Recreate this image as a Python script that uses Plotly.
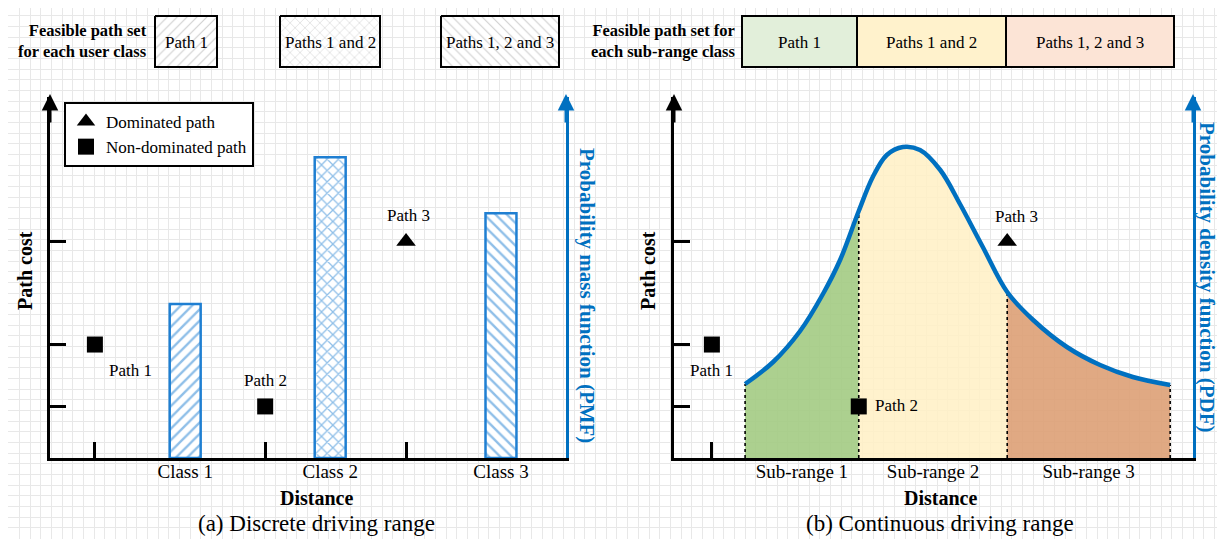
import plotly.graph_objects as go

W, H = 1225, 539          # browser window
OFF = 8                   # default page body margin
FW, FH = W - OFF, H - OFF  # figure size
FONT = "Liberation Serif"
BLUE = "#0070c0"
BAR_BLUE = "#1f7fd2"

# ---------------- data: panel (a) discrete driving range ----------------
classes = ["Class 1", "Class 2", "Class 3"]
class_distance = [26.2, 54.3, 87.4]
class_pmf = [0.22, 0.43, 0.35]
class_patterns = ["/", "x", "\\"]

paths = ["Path 1", "Path 2", "Path 3"]
path_cost = [2.2, 1.0, 4.2]
path_dominated = [False, False, True]
a_path_distance = [8.7, 41.7, 69.0]

# ---------------- data: panel (b) continuous driving range ----------------
b_path_distance = [7.3, 35.6, 64.2]
pdf_distance = [13.7, 19.1, 24.3, 28.7, 32.0, 35.6, 38.3, 41.0, 44.1, 47.4,
                51.3, 55.1, 59.5, 64.2, 69.2, 75.7, 82.1, 88.4, 95.6]
pdf_density = [0.0074, 0.0096, 0.0127, 0.0164, 0.0198, 0.0247, 0.0281, 0.0303,
               0.0311, 0.0308, 0.0288, 0.0254, 0.0211, 0.0166, 0.0138, 0.0111,
               0.0093, 0.0081, 0.0073]
subranges = ["Sub-range 1", "Sub-range 2", "Sub-range 3"]
subrange_bounds = [13.7, 35.6, 64.2, 95.6]
subrange_colors = ["rgba(160,202,128,0.88)", "rgba(255,240,196,0.85)", "rgba(221,160,118,0.9)"]

# ---------------- legend box labels ----------------
user_class_sets = ["Path 1", "Paths 1 and 2", "Paths 1, 2 and 3"]
subrange_sets = ["Path 1", "Paths 1 and 2", "Paths 1, 2 and 3"]
subrange_set_colors = ["#e2efda", "#fff2cc", "#fce4d6"]


def px(x):
    return (x - OFF) / FW


def py(y):
    return 1 - (y - OFF) / FH


fig = go.Figure()

# ---- top legend (a): hatched boxes drawn on the page-pixel axis ----
boxes_a = [(155, 217), (280, 380), (441, 559)]
for (x0, x1), lab, pat in zip(boxes_a, user_class_sets, class_patterns):
    fig.add_trace(go.Scatter(
        x=[x0, x1, x1, x0, x0], y=[16, 16, 67, 67, 16], mode="lines",
        fill="toself", fillcolor="white",
        fillpattern=dict(shape=pat, fgcolor="#9a9a9a", bgcolor="white", size=7, solidity=0.15),
        line=dict(color="black", width=2), showlegend=False, hoverinfo="skip",
        xaxis="x", yaxis="y"))

# ---- panel (a): path markers on base axes, PMF bars on overlay axes ----
dom_x = [d for d, m in zip(a_path_distance, path_dominated) if m]
dom_y = [c for c, m in zip(path_cost, path_dominated) if m]
nd_x = [d for d, m in zip(a_path_distance, path_dominated) if not m]
nd_y = [c for c, m in zip(path_cost, path_dominated) if not m]
fig.add_trace(go.Scatter(x=dom_x, y=dom_y, mode="markers", name="Dominated path",
                         marker=dict(symbol="triangle-up", size=17, color="black"),
                         xaxis="x2", yaxis="y2"))
fig.add_trace(go.Scatter(x=nd_x, y=nd_y, mode="markers", name="Non-dominated path",
                         marker=dict(symbol="square", size=16, color="black"),
                         xaxis="x2", yaxis="y2"))
fig.add_trace(go.Bar(
    x=class_distance, y=class_pmf, width=6.0, xaxis="x3", yaxis="y3",
    marker=dict(color="white", line=dict(color=BAR_BLUE, width=2.5),
                pattern=dict(shape=class_patterns, fgcolor=BAR_BLUE, bgcolor="white",
                             size=8, solidity=0.3)),
    showlegend=False, hoverinfo="skip"))

# ---- panel (b): PDF on base axes, path markers on overlay axes ----
for i in range(3):
    i0 = pdf_distance.index(subrange_bounds[i])
    i1 = pdf_distance.index(subrange_bounds[i + 1])
    fig.add_trace(go.Scatter(
        x=pdf_distance[i0:i1 + 1], y=pdf_density[i0:i1 + 1], mode="lines",
        line=dict(width=0, shape="spline"), fill="tozeroy",
        fillcolor=subrange_colors[i], showlegend=False, hoverinfo="skip",
        xaxis="x4", yaxis="y4"))
for b in subrange_bounds:
    dv = pdf_density[pdf_distance.index(b)]
    fig.add_trace(go.Scatter(x=[b, b], y=[0, dv], mode="lines",
                             line=dict(color="black", width=1.6, dash="dot"),
                             showlegend=False, hoverinfo="skip", xaxis="x4", yaxis="y4"))
fig.add_trace(go.Scatter(x=pdf_distance, y=pdf_density, mode="lines",
                         line=dict(color=BLUE, width=4.5, shape="spline"),
                         showlegend=False, hoverinfo="skip", xaxis="x4", yaxis="y4"))

bdom_x = [d for d, m in zip(b_path_distance, path_dominated) if m]
bnd_x = [d for d, m in zip(b_path_distance, path_dominated) if not m]
fig.add_trace(go.Scatter(x=bdom_x, y=dom_y, mode="markers", showlegend=False,
                         marker=dict(symbol="triangle-up", size=17, color="black"),
                         xaxis="x5", yaxis="y5"))
fig.add_trace(go.Scatter(x=bnd_x, y=nd_y, mode="markers", showlegend=False,
                         marker=dict(symbol="square", size=16, color="black"),
                         xaxis="x5", yaxis="y5"))

sub_centers = [(subrange_bounds[i] + subrange_bounds[i + 1]) / 2 for i in range(3)]

# ---------------- axes ----------------
ydom = [py(458), py(97)]
ax_a = [px(50), px(566)]
ax_b = [px(674), px(1193)]
hidden = dict(showgrid=False, zeroline=False, showticklabels=False, ticks="")
black_line = dict(showline=True, linecolor="black", linewidth=3, mirror=False)
tick_in = dict(ticks="inside", ticklen=16, tickwidth=2.5, tickcolor="black",
               showgrid=False, zeroline=False, showticklabels=False)

fig.update_layout(
    width=FW, height=FH, autosize=False,
    margin=dict(l=0, r=0, t=0, b=0),
    paper_bgcolor="white", plot_bgcolor="rgba(0,0,0,0)",
    font=dict(family=FONT, color="black"),
    xaxis=dict(domain=[0, 1], range=[OFF, W], anchor="y", showgrid=True, gridcolor="#e8e8e8",
               gridwidth=1, dtick=10.67, tick0=8.8, zeroline=False, showticklabels=False,
               ticks="", fixedrange=True),
    yaxis=dict(domain=[0, 1], range=[H, OFF], anchor="x", showgrid=True, gridcolor="#e8e8e8",
               gridwidth=1, dtick=10.67, tick0=5, zeroline=False, showticklabels=False,
               ticks="", fixedrange=True),
    # panel (a)
    xaxis2=dict(domain=ax_a, range=[0, 100], anchor="y2", tickvals=a_path_distance,
                **tick_in, **black_line),
    yaxis2=dict(domain=ydom, range=[0, 7], anchor="x2", tickvals=path_cost,
                **tick_in, **black_line),
    xaxis3=dict(overlaying="x2", range=[0, 100], anchor="y2", showgrid=False, zeroline=False,
                showline=False, ticks="", tickvals=class_distance, ticktext=classes,
                tickfont=dict(size=19, family=FONT)),
    yaxis3=dict(overlaying="y2", side="right", anchor="x2", range=[0, 0.516], showline=True,
                linecolor=BLUE, linewidth=3, **hidden),
    # panel (b)
    xaxis4=dict(domain=ax_b, range=[0, 100], anchor="y4", showgrid=False, zeroline=False,
                showline=False, ticks="", tickvals=sub_centers, ticktext=subranges,
                tickfont=dict(size=19, family=FONT)),
    yaxis4=dict(domain=ydom, side="right", range=[0, 0.0361], anchor="x4", showline=True,
                linecolor=BLUE, linewidth=3, **hidden),
    xaxis5=dict(overlaying="x4", range=[0, 100], anchor="y4",
                tickvals=[b_path_distance[0]], **tick_in, **black_line),
    yaxis5=dict(overlaying="y4", side="left", range=[0, 7], anchor="x4", tickvals=path_cost,
                **tick_in, **black_line),
    showlegend=True,
    legend=dict(x=px(64), y=py(102), xanchor="left", yanchor="top", bgcolor="white",
                bordercolor="black", borderwidth=2, font=dict(size=17, family=FONT),
                tracegroupgap=0),
)

# ---------------- shapes: right legend boxes ----------------
boxes_b = [(742, 857), (857, 1006), (1006, 1174)]
for (x0, x1), col in zip(boxes_b, subrange_set_colors):
    fig.add_shape(type="rect", xref="paper", yref="paper", x0=px(x0), x1=px(x1),
                  y0=py(67), y1=py(16), fillcolor=col, line=dict(color="black", width=2),
                  layer="above")

# ---------------- annotations ----------------
ann = []


def text(x, y, t, size=17, bold=False, color="black", angle=0, xanchor="center", align="center"):
    ann.append(dict(xref="paper", yref="paper", x=px(x), y=py(y),
                    text=f"<b>{t}</b>" if bold else t, showarrow=False,
                    font=dict(family=FONT, size=size, color=color), textangle=angle,
                    xanchor=xanchor, yanchor="middle", align=align))


# top legends
text(149, 41, "Feasible path set<br>for each user class", size=16.5, bold=True,
     xanchor="right", align="right")
for (x0, x1), lab in zip(boxes_a, user_class_sets):
    text((x0 + x1) / 2, 42, lab, size=17)
text(737, 41, "Feasible path set for<br>each sub-range class", size=16.5, bold=True,
     xanchor="right", align="right")
for (x0, x1), lab in zip(boxes_b, subrange_sets):
    text((x0 + x1) / 2, 42, lab, size=17)

# axis titles & captions
text(25, 271, "Path cost", size=20, bold=True, angle=-90)
text(316, 498, "Distance", size=20, bold=True)
text(316, 523, "(a) Discrete driving range", size=23)
text(587, 295, "Probability mass function (PMF)", size=21, bold=True, color=BLUE, angle=90)
text(648, 271, "Path cost", size=20, bold=True, angle=-90)
text(940, 498, "Distance", size=20, bold=True)
text(940, 523, "(b) Continuous driving range", size=23)
text(1207, 277, "Probability density function (PDF)", size=21, bold=True, color=BLUE, angle=90)

# path labels (data coordinates + offsets)
a_offsets = [(36, -26), (0, 26), (2, 26)]
b_offsets = [(0, -26), (38, 1), (9, 25)]
for name, d, c, (dx, dy) in zip(paths, a_path_distance, path_cost, a_offsets):
    ann.append(dict(xref="x2", yref="y2", x=d, y=c, text=name, showarrow=False,
                    xshift=dx, yshift=dy, font=dict(family=FONT, size=17)))
for name, d, c, (dx, dy) in zip(paths, b_path_distance, path_cost, b_offsets):
    ann.append(dict(xref="x5", yref="y5", x=d, y=c, text=name, showarrow=False,
                    xshift=dx, yshift=dy, font=dict(family=FONT, size=17)))

# axis arrowheads
for xa, col in [(50, "black"), (566, BLUE), (674, "black"), (1193, BLUE)]:
    ann.append(dict(xref="paper", yref="paper", x=px(xa), y=py(94), ax=0, ay=30,
                    text="", showarrow=True, arrowhead=2, arrowsize=1.1, arrowwidth=3,
                    arrowcolor=col, standoff=0))

fig.update_layout(annotations=ann)

fig.write_html("out.html")
